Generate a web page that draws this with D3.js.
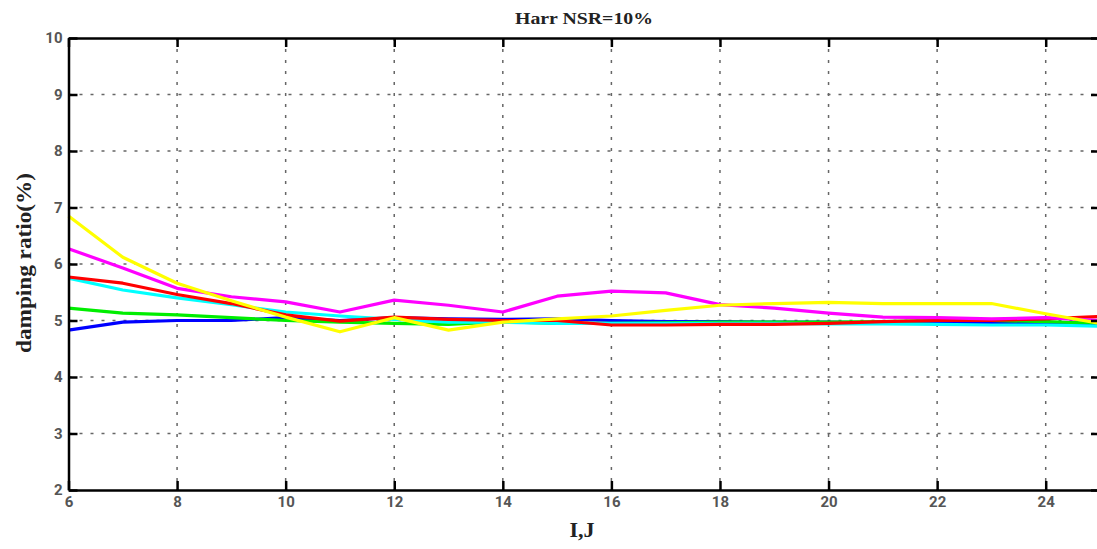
<!DOCTYPE html>
<html><head><meta charset="utf-8">
<script src="https://cdn.jsdelivr.net/npm/d3@7"></script>
<style>body{margin:0;background:#fff;}svg{display:block;}</style>
</head><body>
<svg id="c" width="1097" height="549"></svg>
<script>
const xValues = [6,7,8,9,10,11,12,13,14,15,16,17,18,19,20,21,22,23,24,25];
const blue    = [4.83,4.97,5.00,5.00,5.05,5.00,5.05,5.03,5.02,5.03,5.00,4.98,4.98,4.97,4.97,4.96,4.96,4.95,4.95,4.95];
const green   = [5.22,5.13,5.10,5.05,5.00,4.97,4.95,4.93,4.98,4.95,4.95,4.96,4.97,4.97,4.97,4.98,5.00,5.00,4.98,4.95];
const cyan    = [5.75,5.54,5.40,5.28,5.15,5.08,5.02,4.97,4.97,4.95,4.95,4.95,4.95,4.95,4.94,4.94,4.93,4.92,4.92,4.90];
const red     = [5.77,5.66,5.46,5.30,5.10,4.99,5.06,5.02,5.00,5.00,4.92,4.92,4.93,4.93,4.95,4.98,5.00,5.00,5.03,5.07];
const magenta = [6.27,5.93,5.57,5.42,5.33,5.15,5.36,5.27,5.15,5.43,5.52,5.49,5.28,5.22,5.13,5.06,5.05,5.03,5.05,5.00];
const yellow  = [6.85,6.12,5.66,5.35,5.06,4.80,5.05,4.83,4.97,5.03,5.08,5.18,5.27,5.30,5.32,5.30,5.30,5.30,5.12,4.95];
const seriesNames = ["blue","green","cyan","red","magenta","yellow"];
const seriesColors = ["#0000ff","#00ee00","#00ffff","#ff0000","#ff00ff","#ffff00"];
const seriesData = [blue,green,cyan,red,magenta,yellow];
const xTicks = [6,8,10,12,14,16,18,20,22,24];
const yTicks = [2,3,4,5,6,7,8,9,10];
const titleText = "Harr NSR=10%";
const xLabel = "I,J";
const yLabel = "damping ratio(%)";

const svg = d3.select("#c");
const L = 68.5, R = 1100, T = 38, B = 490;
const x = d3.scaleLinear().domain([6,25]).range([L,R]);
const y = d3.scaleLinear().domain([2,10]).range([B,T]);

// grid
const grid = svg.append("g").attr("stroke","#666").attr("stroke-width",1.5).attr("stroke-dasharray","3,8");
grid.selectAll("line.v").data(xTicks.filter(d=>d>6)).join("line")
  .attr("x1",d=>x(d)).attr("x2",d=>x(d)).attr("y1",T).attr("y2",B);
grid.selectAll("line.h").data(yTicks.filter(d=>d>2&&d<10)).join("line")
  .attr("x1",L).attr("x2",R).attr("y1",d=>y(d)).attr("y2",d=>y(d));

// lines
const line = d3.line().x((d,i)=>x(xValues[i])).y(d=>y(d));
svg.append("g").selectAll("path").data(seriesData).join("path")
  .attr("d",d=>line(d)).attr("fill","none")
  .attr("stroke",(d,i)=>seriesColors[i]).attr("stroke-width",3.2).attr("stroke-linejoin","round");

// axes
const tickFont = g => g.selectAll("text").attr("font-family","'Liberation Sans Narrow','Roboto','Liberation Sans',sans-serif")
  .attr("font-weight","bold").attr("font-size",15).attr("fill","#555");
const axB = svg.append("g").attr("transform",`translate(0,${B})`)
  .call(d3.axisBottom(x).tickValues(xTicks).tickSizeInner(-9).tickSizeOuter(0).tickPadding(6).tickFormat(d3.format("d")));
const axL = svg.append("g").attr("transform",`translate(${L},0)`)
  .call(d3.axisLeft(y).tickValues(yTicks).tickSizeInner(-9).tickSizeOuter(0).tickPadding(14).tickFormat(d3.format("d")));
const axT = svg.append("g").attr("transform",`translate(0,${T})`)
  .call(d3.axisTop(x).tickValues(xTicks).tickSizeInner(-9).tickSizeOuter(0).tickFormat(""));
const axR = svg.append("g").attr("transform",`translate(${R},0)`)
  .call(d3.axisRight(y).tickValues(yTicks).tickSizeInner(-9).tickSizeOuter(0).tickFormat(""));
[axB,axL,axT,axR].forEach(a=>{
  a.select(".domain").attr("stroke","#000").attr("stroke-width",2.5);
  a.selectAll(".tick line").attr("stroke","#000").attr("stroke-width",2.5);
  a.call(tickFont);
});
axL.selectAll("text").attr("dx",8);

// titles
svg.append("text").attr("x",584).attr("y",24).attr("text-anchor","middle")
  .attr("font-family","'Liberation Serif','DejaVu Serif',serif").attr("font-weight","bold").attr("font-size",17)
  .attr("textLength",138).attr("lengthAdjust","spacingAndGlyphs").attr("fill","#222").text(titleText);
svg.append("text").attr("x",582).attr("y",537).attr("text-anchor","middle")
  .attr("font-family","'Liberation Serif','DejaVu Serif',serif").attr("font-weight","bold").attr("font-size",22)
  .attr("fill","#222").text(xLabel);
svg.append("text").attr("transform","translate(31,263) rotate(-90)").attr("text-anchor","middle")
  .attr("font-family","'Liberation Serif','DejaVu Serif',serif").attr("font-weight","bold").attr("font-size",22)
  .attr("textLength",180).attr("lengthAdjust","spacingAndGlyphs").attr("fill","#222").text(yLabel);
</script>
</body></html>
